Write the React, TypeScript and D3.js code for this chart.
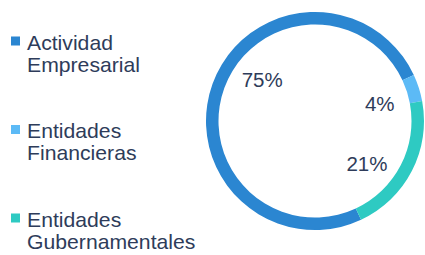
import React from 'react';
import * as d3 from 'd3';

// chart data
const categories = ['Actividad Empresarial', 'Entidades Financieras', 'Entidades Gubernamentales'];
const legendLines = [['Actividad', 'Empresarial'], ['Entidades', 'Financieras'], ['Entidades', 'Gubernamentales']];
const shares = [75, 4, 21];
const colors = ['#2b86d1', '#5cbaf6', '#2ecac2'];

const W = 425;
const H = 255;
const cx = 315;
const cy = 121;
const outerR = 109;
const innerR = 96.5;
const startDeg = 155;
const labelR = 67;
const labelShiftDeg = [18, 3, 12]; // labels are not exactly on the slice mid-line
const font = '"Liberation Sans", Arial, sans-serif';
const textColor = '#2e3c5a';

const App = () => {
    const toRad = (d: number) => (d * Math.PI) / 180;

    const pie = d3.pie<number>()
        .sort(null)
        .value(d => d)
        .startAngle(toRad(startDeg))
        .endAngle(toRad(startDeg + 360));

    const arcs = pie(shares);

    const arc = d3.arc<d3.PieArcDatum<number>>()
        .innerRadius(innerR)
        .outerRadius(outerR);

    const legendY = d3.scaleLinear().domain([0, 1]).range([50, 138.5]);

    return (
        <div style={{ position: 'absolute', left: 0, top: 0 }}>
            <svg width={W} height={H} style={{ display: 'block' }}>
                <rect width={W} height={H} fill="#fff" />
                <g transform={`translate(${cx},${cy})`}>
                    {arcs.map((a, i) => (
                        <path key={categories[i]} d={arc(a) || ''} fill={colors[i]} />
                    ))}
                    {arcs.map((a, i) => {
                        const mid = (a.startAngle + a.endAngle) / 2 + toRad(labelShiftDeg[i]);
                        const x = Math.sin(mid) * labelR;
                        const y = -Math.cos(mid) * labelR;
                        return (
                            <text
                                key={'l' + i}
                                x={x}
                                y={y}
                                dy="0.36em"
                                textAnchor="middle"
                                fontFamily={font}
                                fontSize={20.5}
                                fill={textColor}
                            >
                                {d3.format('d')(shares[i])}%
                            </text>
                        );
                    })}
                </g>
                {legendLines.map((lines, i) => {
                    const y = legendY(i);
                    return (
                        <g key={categories[i]}>
                            <rect x={11} y={y - 13.5} width={9} height={9} fill={colors[i]} />
                            <g transform="translate(27,0) scale(1.06,1)">
                                {lines.map((t, j) => (
                                    <text
                                        key={t}
                                        x={0}
                                        y={y + j * 22}
                                        fontFamily={font}
                                        fontSize={20}
                                        fill={textColor}
                                    >
                                        {t}
                                    </text>
                                ))}
                            </g>
                        </g>
                    );
                })}
            </svg>
        </div>
    );
};

export default App;
